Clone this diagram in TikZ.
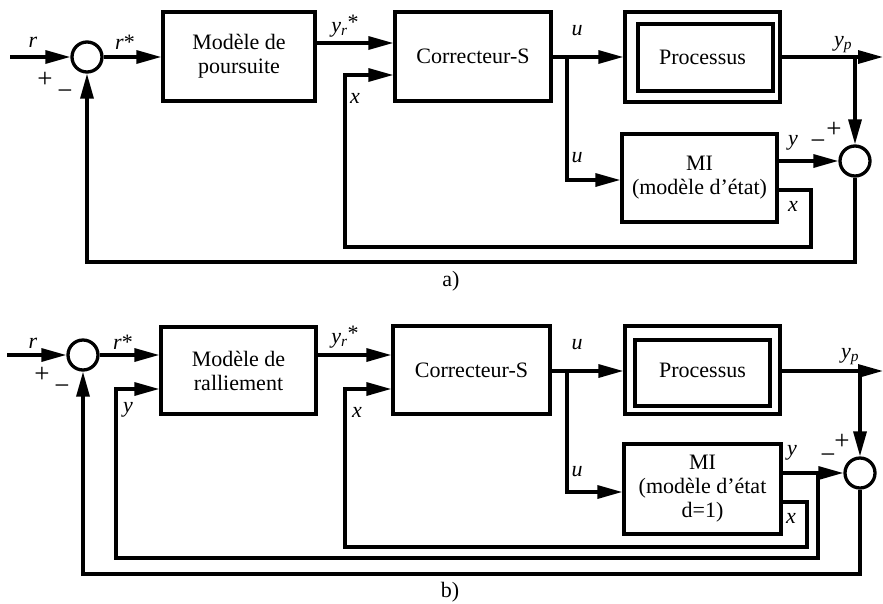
\documentclass[tikz,border=0pt]{standalone}
\usepackage{fontspec}
\setmainfont{Liberation Serif}
\usetikzlibrary{arrows.meta}
\begin{document}
\begin{tikzpicture}[x=1pt,y=-1pt, line width=3.3pt,
  arr/.style={-{Triangle[length=25pt,width=13pt]}},
  box/.style={draw, rectangle, inner sep=0pt, align=center, font=\fontsize{22}{24}\selectfont},
  sumnode/.style={draw, circle, minimum size=30pt, inner sep=0pt},
  lbl/.style={inner sep=0pt, font=\fontsize{22}{24}\selectfont},
  sgn/.style={inner sep=0pt, font=\fontsize{27}{29}\selectfont}]
\useasboundingbox (0,0) rectangle (883,603);

% ---------------- a) ----------------
\node[sumnode] (sA) at (87,57) {};
\node[box, minimum width=152pt, minimum height=89pt] (mA) at (239,56.5) {Modèle de\\poursuite};
\node[box, minimum width=156pt, minimum height=89pt] (cA) at (473,56.5) {Correcteur-S};
\node[box, minimum width=155pt, minimum height=90pt] (pA) at (702.5,57) {Processus};
\node[draw, inner sep=0pt, minimum width=135pt, minimum height=67pt] (pAi) at (705.5,57.5) {};
\node[box, minimum width=155pt, minimum height=88pt] (iA) at (699.5,178) {MI\\(modèle d'état)};
\node[sumnode] (sA2) at (855,161) {};

\coordinate (rA) at (10,57);
\coordinate (uA) at (567,57);
\coordinate (ypA) at (855,57);
\coordinate (outA) at (883,57);

\draw[arr] (rA) -- (sA.west);
\draw[arr] (sA.east) -- (sA.east -| mA.west);
\draw[arr] (mA.east |- 0,43) -- (cA.west |- 0,43);
\draw[arr] (cA.east |- uA) -- (pA.west |- uA);
\draw[arr] (uA) |- (iA.west |- 0,180);
\draw[arr] (pA.east |- uA) -- (outA);
\draw[arr] (ypA) -- (sA2.north);
\draw[arr] (iA.east |- sA2) -- (sA2.west);
\draw[arr] (iA.east |- 0,190) -| (811,247) -| (345,75) -- (cA.west |- 0,75);
\draw[arr] (sA2.south) -- (855,262) -| (sA.south);

\node[lbl] (lrA) at (33,42) {\textit{r}};
\node[lbl] (lrsA) at (125,42) {\textit{r}*};
\node[sgn] (lpA) at (45,80) {+};
\node[sgn] (lmA) at (65,95) {−};
\node[lbl] (lyrA) at (345,26) {\textit{y\textsubscript{r}}\raisebox{0.15em}{*}};
\node[lbl] (lxA) at (355,98) {\textit{x}};
\node[lbl] (luA) at (577,31) {\textit{u}};
\node[lbl] (lu2A) at (577,158) {\textit{u}};
\node[lbl] (lypA) at (843,45) {\textit{y\textsubscript{p}}};
\node[sgn] (lp2A) at (834,130) {+};
\node[sgn] (lm2A) at (818,145) {−};
\node[lbl] (lyA) at (793,143) {\textit{y}};
\node[lbl] (lx2A) at (793,206) {\textit{x}};
\node[lbl] (capA) at (451,281) {a)};

% ---------------- b) ----------------
\node[sumnode] (sB) at (83,355) {};
\node[box, minimum width=155pt, minimum height=87pt] (mB) at (238.5,370.5) {Modèle de\\ralliement};
\node[box, minimum width=157pt, minimum height=88pt] (cB) at (471.5,370) {Correcteur-S};
\node[box, minimum width=155pt, minimum height=88pt] (pB) at (702.5,370) {Processus};
\node[draw, inner sep=0pt, minimum width=135pt, minimum height=66pt] (pBi) at (702.5,373) {};
\node[box, minimum width=157pt, minimum height=90pt] (iB) at (702.5,489) {MI\\(modèle d'état\\d=1)};
\node[sumnode] (sB2) at (860,473) {};

\coordinate (rB) at (7,355);
\coordinate (uB) at (567,371);
\coordinate (ypB) at (860,371);
\coordinate (outB) at (883,371);
\coordinate (yB) at (818,473);

\draw[arr] (rB) -- (sB.west);
\draw[arr] (sB.east) -- (sB.east -| mB.west);
\draw[arr] (mB.east |- 0,355) -- (cB.west |- 0,355);
\draw[arr] (cB.east |- uB) -- (pB.west |- uB);
\draw[arr] (uB) |- (iB.west |- 0,492);
\draw[arr] (pB.east |- uB) -- (outB);
\draw[arr] (ypB) -- (sB2.north);
\draw[arr] (iB.east |- sB2) -- (sB2.west);
\draw[arr] (yB) -- (818,558) -| (116,389) -- (mB.west |- 0,389);
\draw[arr] (iB.east |- 0,502) -| (807,547) -| (345,389) -- (cB.west |- 0,389);
\draw[arr] (sB2.south) -- (860,574) -| (sB.south);

\node[lbl] (lrB) at (33,343) {\textit{r}};
\node[lbl] (lrsB) at (123,342) {\textit{r}*};
\node[sgn] (lpB) at (42,375) {+};
\node[sgn] (lmB) at (62,390) {−};
\node[lbl] (lyB) at (128,410) {\textit{y}};
\node[lbl] (lyrB) at (345,337) {\textit{y\textsubscript{r}}\raisebox{0.15em}{*}};
\node[lbl] (lxB) at (357,412) {\textit{x}};
\node[lbl] (luB) at (577,345) {\textit{u}};
\node[lbl] (lu2B) at (577,472) {\textit{u}};
\node[lbl] (lypB) at (850,357) {\textit{y\textsubscript{p}}};
\node[sgn] (lp2B) at (842,442) {+};
\node[sgn] (lm2B) at (828,459) {−};
\node[lbl] (ly2B) at (792,453) {\textit{y}};
\node[lbl] (lx2B) at (791,518) {\textit{x}};
\node[lbl] (capB) at (450,592) {b)};
\end{tikzpicture}
\end{document}
